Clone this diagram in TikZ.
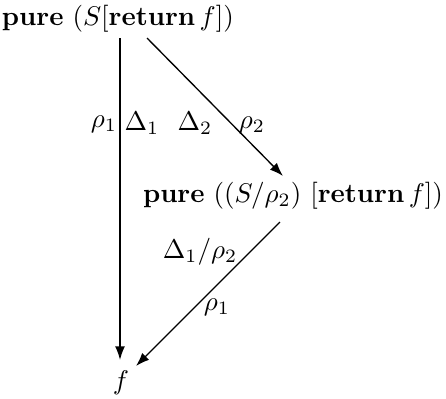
\documentclass[tikz,border=0pt]{standalone}
\usetikzlibrary{arrows.meta}
\begin{document}
\begin{tikzpicture}[x=0.37pt,y=-0.37pt,
  every node/.style={inner sep=0pt,outer sep=0pt},
  arr/.style={line width=0.5pt,-{Latex[length=5pt,width=3.6pt]}},
  lbl/.style={font=\normalsize}]
\useasboundingbox (0,0) rectangle (446,398);
\node[anchor=base west] (top) at (2,25) {$\mathbf{pure}\ (S[\mathbf{return}\, f])$};
\node[anchor=base east] (mid) at (443,202) {$\mathbf{pure}\ ((S/\rho_2)\ [\mathbf{return}\, f])$};
\node[anchor=base] (f) at (121,389) {$f$};
\coordinate (a1) at (120,38);
\coordinate (a2) at (120,360);
\coordinate (b1) at (147,38);
\coordinate (b2) at (283,176);
\coordinate (c1) at (280,222);
\coordinate (c2) at (136,366);
\draw[arr] (a1) -- (a2);
\draw[arr] (b1) -- (b2);
\draw[arr] (c1) -- (c2);
\node[lbl] (l1) at (104,124) {$\rho_1$};
\node[lbl] (l2) at (142,123) {$\Delta_1$};
\node[lbl] (l3) at (195,123) {$\Delta_2$};
\node[lbl] (l4) at (252,125) {$\rho_2$};
\node[lbl] (l5) at (200,252) {$\Delta_1/\rho_2$};
\node[lbl] (l6) at (217,307) {$\rho_1$};
\end{tikzpicture}
\end{document}
